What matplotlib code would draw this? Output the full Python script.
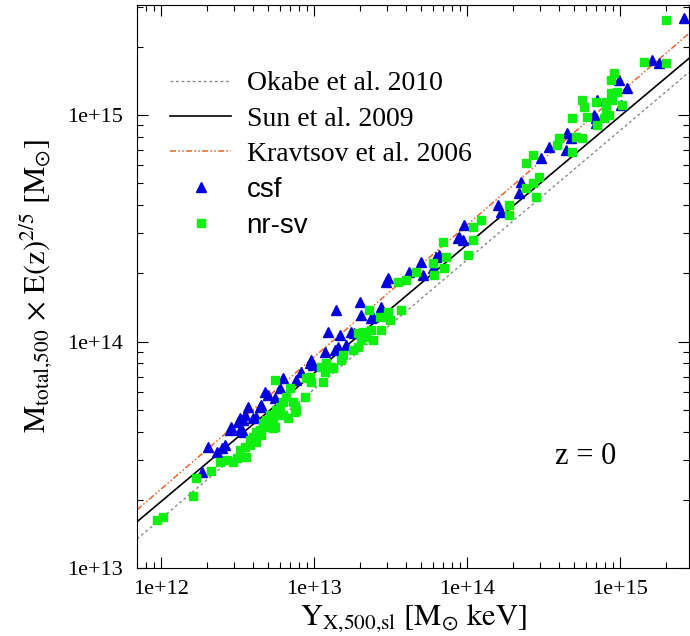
import numpy as np
import matplotlib.pyplot as plt
from matplotlib.ticker import LogLocator, FuncFormatter, NullFormatter

plt.rcParams["font.family"] = "Liberation Serif"
plt.rcParams["mathtext.fontset"] = "stix"

# scatter data, log10 values (dex)
csf_logY = [12.265, 12.309, 12.363, 12.396, 12.417, 12.450, 12.461, 12.504, 12.515, 12.537,
            12.548, 12.569, 12.602, 12.624, 12.646, 12.657, 12.678, 12.700, 12.744, 12.776,
            12.798, 12.885, 12.918, 12.972, 12.983, 12.993, 13.070, 13.091, 13.146, 13.168,
            13.135, 13.157, 13.211, 13.244, 13.265, 13.298, 13.309, 13.374, 13.385, 13.440,
            13.472, 13.483, 13.624, 13.701, 13.711, 13.776, 13.798, 13.820, 13.939, 13.972,
            13.983, 13.950, 14.200, 14.222, 14.342, 14.353, 14.483, 14.537, 14.646, 14.657,
            14.679, 14.831, 14.842, 14.853, 15.005, 14.994, 14.842, 15.048, 15.211, 15.255,
            15.418, 12.515, 12.537]
csf_logM = [13.425, 13.536, 13.513, 13.528, 13.543, 13.609, 13.624, 13.646, 13.661, 13.653,
            13.675, 13.712, 13.661, 13.668, 13.712, 13.720, 13.778, 13.764, 13.749, 13.793,
            13.838, 13.830, 13.867, 13.904, 13.918, 13.896, 13.954, 14.043, 14.139, 14.029,
            13.962, 13.977, 13.985, 14.043, 14.036, 14.176, 14.117, 14.102, 14.109, 14.154,
            14.264, 14.279, 14.308, 14.352, 14.294, 14.323, 14.374, 14.382, 14.456, 14.448,
            14.514, 14.463, 14.603, 14.573, 14.654, 14.706, 14.809, 14.860, 14.845, 14.919,
            14.897, 15.000, 14.963, 15.066, 15.044, 15.155, 14.985, 15.118, 15.243, 15.228,
            15.427, 13.609, 13.602]

nrsv_logY = [11.976, 12.011, 12.211, 12.228, 12.326, 12.385, 12.429, 12.472, 12.494, 12.515,
             12.548, 12.559, 12.581, 12.602, 12.624, 12.646, 12.657, 12.667, 12.689, 12.722,
             12.733, 12.744, 12.755, 12.776, 12.798, 12.820, 12.830, 12.841, 12.863, 12.885,
             12.744, 12.939, 12.950, 12.972, 12.983, 13.059, 13.070, 13.081, 13.113, 13.179,
             13.189, 13.254, 13.287, 13.309, 13.287, 13.320, 13.342, 13.374, 13.385, 13.363,
             13.429, 13.440, 13.483, 13.494, 13.570, 13.548, 13.603, 13.668, 13.776, 13.787,
             13.841, 13.864, 13.853, 14.005, 14.037, 14.037, 14.092, 14.277, 14.277, 14.385,
             14.429, 14.472, 14.451, 14.385, 14.429, 14.592, 14.603, 14.689, 14.712, 14.755,
             14.689, 14.787, 14.755, 14.766, 14.842, 14.853, 14.907, 14.929, 14.896, 14.907,
             14.950, 14.940, 14.983, 14.961, 14.940, 15.016, 15.157, 15.299, 15.299, 12.874,
             12.874, 12.755, 12.798, 12.711, 12.689, 12.733, 12.624, 12.581, 13.048, 13.124,
             13.472]
nrsv_logM = [13.212, 13.226, 13.318, 13.399, 13.430, 13.469, 13.477, 13.469, 13.484, 13.521,
             13.536, 13.490, 13.565, 13.580, 13.602, 13.609, 13.587, 13.639, 13.653, 13.675,
             13.653, 13.624, 13.698, 13.712, 13.734, 13.756, 13.661, 13.793, 13.734, 13.698,
             13.830, 13.756, 13.838, 13.845, 13.823, 13.823, 13.867, 13.904, 13.889, 13.918,
             13.940, 13.962, 13.977, 14.007, 14.036, 14.043, 14.021, 14.051, 14.007, 14.139,
             14.110, 14.051, 14.132, 14.095, 14.139, 14.264, 14.272, 14.308, 14.345, 14.294,
             14.441, 14.374, 14.323, 14.382, 14.448, 14.507, 14.536, 14.603, 14.558, 14.676,
             14.698, 14.728, 14.639, 14.787, 14.823, 14.868, 14.897, 14.838, 14.904, 14.897,
             14.985, 14.993, 15.066, 15.037, 15.059, 14.956, 15.022, 15.000, 14.985, 15.059,
             15.066, 15.096, 15.103, 15.184, 15.155, 15.044, 15.235, 15.228, 15.419, 13.712,
             13.690, 13.683, 13.675, 13.675, 13.624, 13.617, 13.558, 13.543, 13.889, 13.882,
             14.110]

# scaling relations: log M = norm + slope * (log Y - 14)
rel_labels = ["Okabe et al. 2010", "Sun et al. 2009", "Kravtsov et al. 2006"]
rel_norm = [14.360, 14.427, 14.514]
rel_slope = [0.571, 0.567, 0.583]
rel_colors = ["#888888", "black", "#e8642a"]
rel_styles = [(0, (2, 2)), "-", (0, (4, 1.5, 1, 1.5, 1, 1.5))]
rel_widths = [1.0, 1.2, 1.1]

xlim = (6.97e11, 2.83e15)
ylim = (1e13, 3.06e15)

fig = plt.figure(figsize=(6.9, 6.36), dpi=100)
ax = fig.add_axes([137 / 690, 68 / 636, 552 / 690, 563 / 636])
ax.set_xscale("log")
ax.set_yscale("log")

xl = np.log10(np.array(xlim))
for lab, a, b, c, ls, lw in zip(rel_labels, rel_norm, rel_slope, rel_colors, rel_styles, rel_widths):
    ax.plot(10 ** xl, 10 ** (a + b * (xl - 14)), color=c, ls=ls, lw=lw, label=lab)

ax.plot(10 ** np.array(csf_logY), 10 ** np.array(csf_logM), ls="none", marker="^",
        ms=7.5, color="#0000dd", mec="#0000dd", label="csf")
ax.plot(10 ** np.array(nrsv_logY), 10 ** np.array(nrsv_logM), ls="none", marker="s",
        ms=6, color="#11ee11", mec="#11ee11", label="nr-sv")

ax.set_xlim(*xlim)
ax.set_ylim(*ylim)

fmt = FuncFormatter(lambda v, p: "1e+%d" % round(np.log10(v)))
for axis in (ax.xaxis, ax.yaxis):
    axis.set_major_locator(LogLocator(base=10, numticks=10))
    axis.set_minor_locator(LogLocator(base=10, subs=np.arange(2, 10), numticks=50))
    axis.set_major_formatter(fmt)
    axis.set_minor_formatter(NullFormatter())

ax.tick_params(which="both", direction="in", top=True, right=True, labelsize=16)
ax.tick_params(which="major", length=8, width=0.8)
ax.tick_params(which="minor", length=4, width=0.8)
ax.tick_params(axis="x", pad=9)
ax.tick_params(axis="y", pad=10)

ax.set_xlabel(r"$\mathrm{Y_{X{,}500{,}sl}\ [M_{\odot}\ keV]}$", fontsize=22, labelpad=2)
ax.set_ylabel(r"$\mathrm{M_{total{,}500}\,\times\,E(z)^{2/5}\ [M_{\odot}]}$", fontsize=22, labelpad=9)

ax.text(0.813, 0.198, "z = 0", transform=ax.transAxes, fontsize=22, ha="center", va="center")

leg = ax.legend(loc="upper left", bbox_to_anchor=(0.06, 0.883), frameon=False,
                fontsize=20, handlelength=2.2, handletextpad=0.55, labelspacing=0.36,
                borderaxespad=0, borderpad=0, numpoints=1)
for t in leg.get_texts()[3:]:
    t.set_fontfamily("Liberation Sans")

fig.savefig("out.png", dpi=100)
